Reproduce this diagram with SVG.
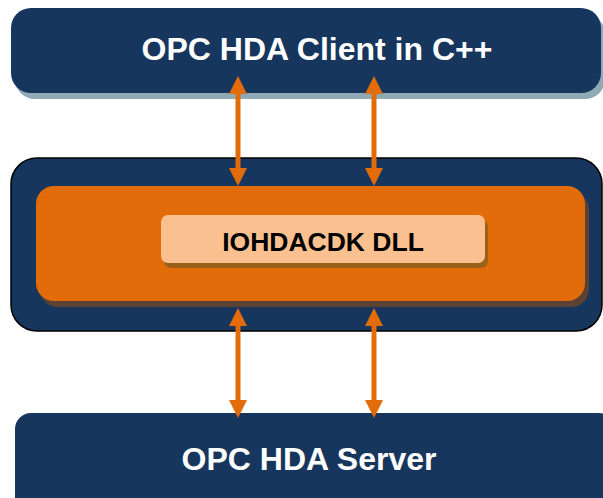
<svg xmlns="http://www.w3.org/2000/svg" width="603" height="498" viewBox="0 0 603 498">
<style>
.navy{fill:#17365d}
.lbl{font-family:"Liberation Sans",Arial,sans-serif;font-weight:bold;text-anchor:middle}
.w{fill:#ffffff;font-size:32px}
.k{fill:#000000;font-size:26.5px}
.arr{stroke:#e36c0a;stroke-width:5;fill:none;marker-start:url(#ah);marker-end:url(#ah)}
</style>
<defs>
<marker id="ah" markerUnits="userSpaceOnUse" markerWidth="18" markerHeight="19" refX="0" refY="9" orient="auto-start-reverse" overflow="visible">
<path d="M-1,0 L17,9 L-1,18 z" fill="#e36c0a"/>
</marker>
</defs>
<g id="client">
<rect x="15" y="14" width="590" height="85" rx="20" fill="#8eaab5"/>
<rect class="navy" x="11" y="8" width="590" height="85" rx="20"/>
<text class="lbl w" x="317" y="60">OPC HDA Client in C++</text>
</g>
<g id="wrapper">
<rect class="navy" x="11" y="158" width="591" height="173" rx="26" stroke="#000" stroke-width="1.5"/>
</g>
<g id="orange">
<rect x="40" y="192" width="549" height="115" rx="18" fill="#5d4234"/>
<rect x="36" y="186" width="549" height="115" rx="18" fill="#e36c0a"/>
</g>
<g id="dll">
<rect x="164" y="220" width="324" height="48" rx="7" fill="#9b6118"/>
<rect x="161" y="215" width="324" height="48" rx="7" fill="#fac090"/>
<text class="lbl k" x="323" y="251">IOHDACDK DLL</text>
</g>
<g id="server">
<rect class="navy" x="15" y="413" width="600" height="110" rx="16"/>
<text class="lbl w" x="309" y="470">OPC HDA Server</text>
</g>
<g id="connectors">
<line class="arr" x1="238" y1="93" x2="238" y2="169"/>
<line class="arr" x1="374" y1="93" x2="374" y2="169"/>
<line class="arr" x1="238" y1="325" x2="238" y2="401"/>
<line class="arr" x1="374" y1="325" x2="374" y2="401"/>
</g>
</svg>
